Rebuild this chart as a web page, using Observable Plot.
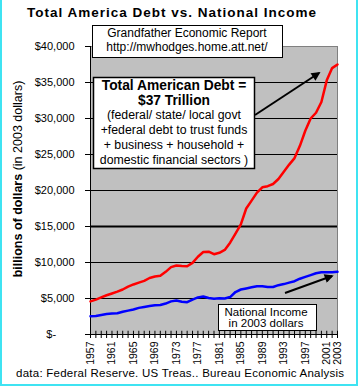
<!DOCTYPE html>
<html><head><meta charset="utf-8">
<script src="https://cdn.jsdelivr.net/npm/d3@7"></script>
<script src="https://cdn.jsdelivr.net/npm/@observablehq/plot@0.6"></script>
<style>
body{margin:0;background:#fff;}
#wrap{position:relative;width:359px;height:386px;overflow:hidden;font-family:"Liberation Sans",Arial,sans-serif;}
#wrap > svg{position:absolute;left:0;top:0;}
#border{position:absolute;left:0;top:0;width:354px;height:384px;border-left:2px solid #3fe3f2;border-right:2px solid #3fe3f2;border-bottom:2px solid #3fe3f2;}
</style></head><body>
<div id="wrap"><div id="border"></div></div>
<script>
const years = [1957,1958,1959,1960,1961,1962,1963,1964,1965,1966,1967,1968,1969,1970,1971,1972,1973,1974,1975,1976,1977,1978,1979,1980,1981,1982,1983,1984,1985,1986,1987,1988,1989,1990,1991,1992,1993,1994,1995,1996,1997,1998,1999,2000,2001,2002,2003];
const totalDebt = [4600,4850,5150,5450,5700,5950,6250,6650,6950,7200,7450,7850,8050,8150,8700,9350,9580,9500,9480,9950,10800,11450,11500,11150,11350,11750,12750,14000,15300,17500,18600,19700,20450,20600,20900,21600,22600,23600,24500,26200,28300,30000,30800,32300,35300,37000,37500];
const nationalIncome = [2540,2560,2700,2850,2900,2960,3150,3320,3480,3700,3820,3950,4050,4100,4300,4600,4720,4550,4480,4850,5150,5280,5080,4980,5050,5000,5200,5900,6250,6400,6550,6700,6700,6600,6600,6850,7000,7200,7400,7750,8000,8250,8500,8650,8650,8650,8700];
const yTicks = [0,5000,10000,15000,20000,25000,30000,35000,40000];
const gridLines = [5000,10000,20000,25000,30000,35000];
const boldGrid = [15000];
const labelYears = [1957,1961,1965,1969,1973,1977,1981,1985,1989,1993,1997,2001,2003];

const debtData = years.map((y,i)=>({year:y, value: totalDebt[i]}));
const incomeData = years.map((y,i)=>({year:y, value: nationalIncome[i]}));
const font = '"Liberation Sans", Arial, sans-serif';

const chart = Plot.plot({
  width: 359, height: 386,
  marginLeft: 90, marginRight: 22, marginTop: 46, marginBottom: 52,
  style: {fontFamily: font, background: "transparent", color: "black"},
  x: {domain: [1957, 2003]},
  y: {domain: [0, 40000]},
  marks: [
    Plot.frame({fill: "#c0c0c0", stroke: "#808080"}),
    Plot.ruleY(gridLines, {y: d=>d, stroke: "black", strokeWidth: 1}),
    Plot.ruleY(boldGrid, {y: d=>d, stroke: "black", strokeWidth: 2}),
    Plot.ruleX(years, {x: d=>d, y1: 0, y2: 450, stroke: "black"}),
    Plot.ruleX([1957], {stroke: "black"}),
    Plot.ruleY([0], {stroke: "black"}),
    Plot.axisY({ticks: yTicks, tickFormat: d => d === 0 ? "$-\u2007\u2007\u2007" : "$" + d3.format(",")(d), tickSize: 5, tickPadding: 11, fontSize: 11, label: null, stroke: "black"}),
    Plot.axisX({ticks: years, tickFormat: d => labelYears.includes(d) ? String(d) : "", tickSize: 4, tickPadding: 3, tickRotate: -90, fontSize: 10.5, label: null, stroke: "black"}),
    Plot.line(debtData, {x: "year", y: "value", stroke: "#ff0000", strokeWidth: 2.5}),
    Plot.line(incomeData, {x: "year", y: "value", stroke: "#0000ff", strokeWidth: 2.5})
  ]
});
const wrap = document.getElementById("wrap");
wrap.insertBefore(chart, document.getElementById("border"));

const ns = "http://www.w3.org/2000/svg";
const ov = document.createElementNS(ns, "svg");
ov.setAttribute("width", 359); ov.setAttribute("height", 386);
ov.setAttribute("font-family", font);
ov.innerHTML = `
<defs><marker id="ah" viewBox="0 0 10 10" refX="8" refY="5" markerWidth="5" markerHeight="4.5" orient="auto" markerUnits="strokeWidth"><path d="M0,0L10,5L0,10z" fill="black"/></marker></defs>
<text x="27" y="17" font-size="13.5" font-weight="bold" letter-spacing="1">Total America Debt vs. National Income</text>
<text x="16" y="377" font-size="11.5" letter-spacing="0.25">data: Federal Reserve. US Treas.. Bureau Economic Analysis</text>
<text transform="translate(21.5,179) rotate(-90)" text-anchor="middle" font-size="12.5"><tspan font-weight="bold">billions of dollars</tspan> (in 2003 dollars)</text>
<rect x="92.5" y="25.5" width="190" height="32" fill="white" stroke="black"/>
<text x="187" y="37" text-anchor="middle" font-size="12">Grandfather Economic Report</text>
<text x="187" y="51" text-anchor="middle" font-size="12">http://mwhodges.home.att.net/</text>
<rect x="93.5" y="77.5" width="161" height="91" fill="white" stroke="black" stroke-width="1.5"/>
<g text-anchor="middle">
<text x="174" y="90" font-size="13.8" font-weight="bold">Total American Debt =</text>
<text x="174" y="104.5" font-size="13.8" font-weight="bold">$37 Trillion</text>
<text x="174" y="119" font-size="12.3">(federal/ state/ local govt</text>
<text x="174" y="134" font-size="12.3">+federal debt to trust funds</text>
<text x="174" y="149" font-size="12.3">+ business + household +</text>
<text x="174" y="164" font-size="12.3">domestic financial sectors )</text>
</g>
<line x1="255" y1="115" x2="319" y2="73" stroke="black" stroke-width="2" marker-end="url(#ah)"/>
<rect x="218.5" y="304.5" width="98" height="26" fill="white" stroke="black"/>
<text x="266" y="315.5" text-anchor="middle" font-size="11.5">National Income</text>
<text x="266" y="326.5" text-anchor="middle" font-size="11.5">in 2003 dollars</text>
<line x1="285" y1="293" x2="332" y2="276" stroke="black" stroke-width="2" marker-end="url(#ah)"/>
`;
wrap.insertBefore(ov, document.getElementById("border"));
</script>
</body></html>
